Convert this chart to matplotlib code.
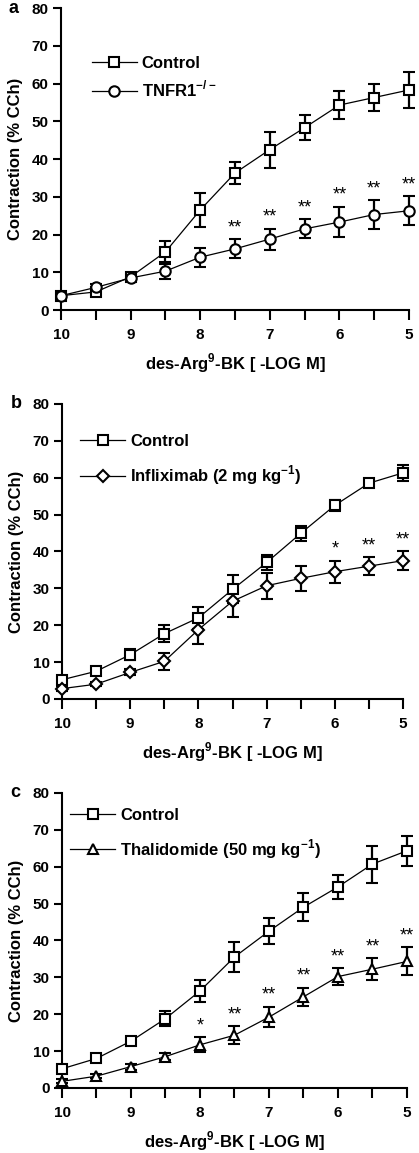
import matplotlib
matplotlib.use("Agg")
import matplotlib.pyplot as plt
from matplotlib.lines import Line2D
import numpy as np

plt.rcParams["font.family"] = ["Liberation Sans", "DejaVu Sans"]
plt.rcParams["font.weight"] = "bold"
plt.rcParams["axes.labelweight"] = "bold"
plt.rcParams["mathtext.fontset"] = "custom"
plt.rcParams["mathtext.rm"] = "Liberation Sans:bold"
plt.rcParams["mathtext.bf"] = "Liberation Sans:bold"

# -log M concentrations
conc = [10, 9.5, 9, 8.5, 8, 7.5, 7, 6.5, 6, 5.5, 5]

# panel a
a_ctrl = [3.8, 4.8, 8.8, 15.4, 26.5, 36.3, 42.5, 48.3, 54.3, 56.3, 58.3]
a_ctrl_err = [0.8, 1.0, 1.0, 2.8, 4.5, 3.0, 4.8, 3.3, 3.8, 3.7, 4.8]
a_trt = [3.8, 6.0, 8.5, 10.3, 14.0, 16.2, 18.8, 21.5, 23.3, 25.3, 26.3]
a_trt_err = [0.6, 0.8, 0.8, 2.0, 2.5, 2.5, 2.8, 2.5, 4.0, 3.8, 3.8]
a_stars = ["", "", "", "", "", "**", "**", "**", "**", "**", "**"]

# panel b
b_ctrl = [5.2, 7.5, 12.0, 17.7, 22.0, 29.7, 37.0, 44.9, 52.5, 58.5, 61.3]
b_ctrl_err = [1.0, 0.8, 1.5, 2.3, 3.0, 3.8, 2.0, 2.0, 1.5, 0.5, 2.2]
b_trt = [2.8, 4.0, 7.2, 10.2, 18.8, 26.5, 30.7, 32.7, 34.5, 36.0, 37.5]
b_trt_err = [0.6, 0.6, 0.8, 2.3, 4.0, 4.3, 3.5, 3.3, 3.0, 2.5, 2.5]
b_stars = ["", "", "", "", "", "", "", "", "*", "**", "**"]

# panel c
c_ctrl = [5.2, 8.0, 12.7, 18.8, 26.3, 35.5, 42.5, 49.0, 54.5, 60.7, 64.3]
c_ctrl_err = [0.8, 0.8, 1.0, 2.0, 3.0, 4.0, 3.5, 3.8, 3.3, 5.0, 4.0]
c_trt = [1.8, 3.2, 5.8, 8.5, 11.7, 14.3, 19.2, 24.7, 30.2, 32.2, 34.3]
c_trt_err = [0.5, 0.6, 0.8, 1.0, 2.0, 2.5, 2.8, 2.5, 2.3, 3.0, 3.8]
c_stars = ["", "", "", "", "*", "**", "**", "**", "**", "**", "**"]

panels = [
    ("a", a_ctrl, a_ctrl_err, a_trt, a_trt_err, a_stars, "o",
     r"TNFR1$^{\mathrm{-/-}}$", [0.1456, 0.7311, 0.8305, 0.2619], (0.045, 0.89), 0.45),
    ("b", b_ctrl, b_ctrl_err, b_trt, b_trt_err, b_stars, "D",
     r"Infliximab (2 mg kg$^{\mathrm{-1}}$)", [0.148, 0.3938, 0.814, 0.2559], (0.01, 0.95), 0.9),
    ("c", c_ctrl, c_ctrl_err, c_trt, c_trt_err, c_stars, "^",
     r"Thalidomide (50 mg kg$^{\mathrm{-1}}$)", [0.148, 0.0564, 0.823, 0.2559], (-0.02, 1.0), 0.85),
]

fig = plt.figure(figsize=(4.19, 11.53), dpi=100)

for letter, ctrl, ctrl_err, trt, trt_err, stars, mk, lab, rect, leg_pos, lsp in panels:
    ax = fig.add_axes(rect)
    ms = 7.5 if mk != "D" else 6.5
    mkw = dict(markersize=ms, markerfacecolor="white", markeredgecolor="black",
               markeredgewidth=1.5)
    ebkw = dict(color="black", elinewidth=1.6, capsize=4, capthick=1.6,
                linewidth=0.9, clip_on=False, zorder=3, **mkw)
    ax.errorbar(conc, ctrl, yerr=ctrl_err, marker="s", **ebkw)
    ax.errorbar(conc, trt, yerr=trt_err, marker=mk, **ebkw)
    for x, y, e, s in zip(conc, trt, trt_err, stars):
        if s:
            ax.text(x, y + e + 0.8, s, ha="center", va="bottom", fontsize=13,
                    fontweight="normal")

    ax.set_xlim(10, 5)
    ax.set_ylim(0, 80)
    ax.set_xticks(conc)
    ax.set_xticklabels([str(int(c)) if c == int(c) else "" for c in conc])
    ax.set_yticks(np.arange(0, 81, 10))
    ax.spines[["top", "right"]].set_visible(False)
    ax.spines[["left", "bottom"]].set_linewidth(1.5)
    ax.tick_params(axis="both", direction="out", width=1.5, labelsize=11)
    ax.tick_params(axis="y", length=6, pad=3)
    ax.tick_params(axis="x", length=7, pad=6)
    ax.set_ylabel("Contraction (% CCh)", fontsize=12, labelpad=6)
    ax.set_xlabel(r"des-Arg$^{\mathrm{9}}$-BK [ -LOG M]", fontsize=12, labelpad=7)
    ax.text(-0.15, 1.0, letter, transform=ax.transAxes, fontsize=13,
            ha="left", va="center")

    h1 = Line2D([], [], color="black", linewidth=0.9, marker="s", **mkw)
    h2 = Line2D([], [], color="black", linewidth=0.9, marker=mk, **mkw)
    ax.legend([h1, h2], ["Control", lab], loc="upper left",
              bbox_to_anchor=leg_pos, frameon=False, fontsize=12,
              handlelength=2.7, labelspacing=lsp, handletextpad=0.3)

fig.savefig("out.png", dpi=100)
